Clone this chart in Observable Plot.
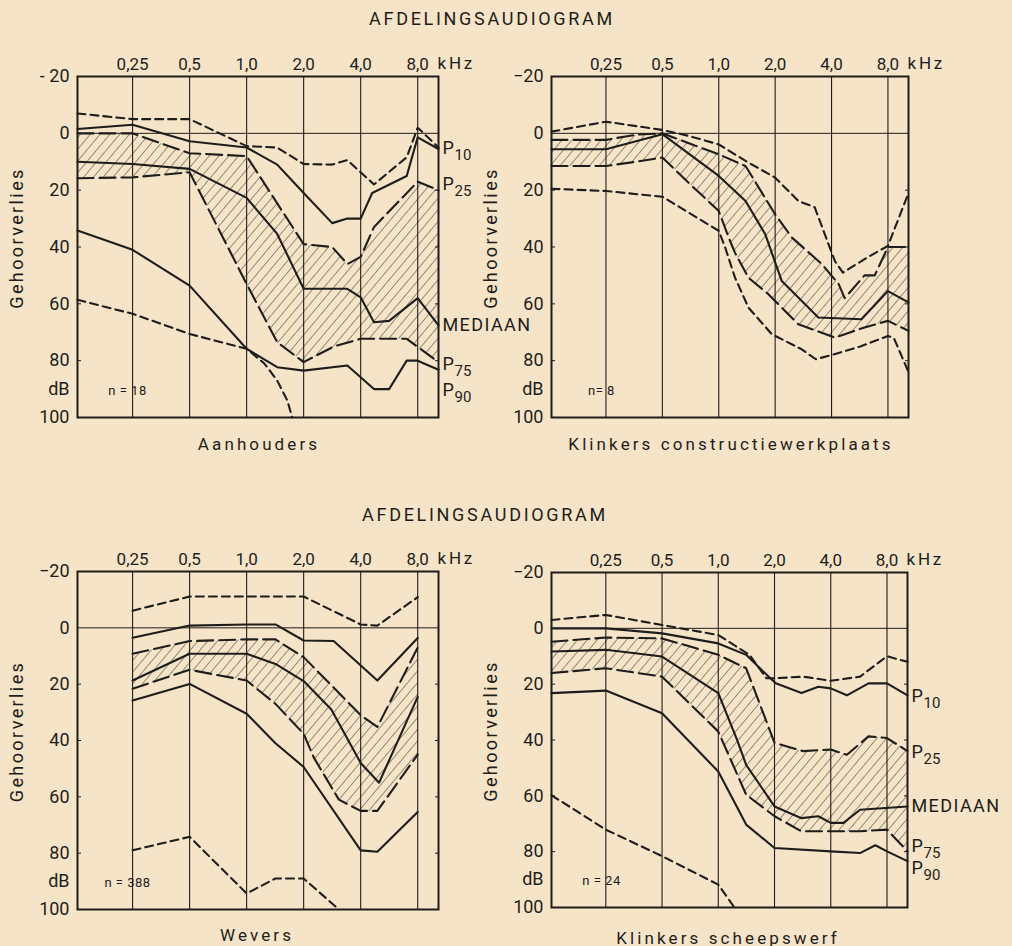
<!DOCTYPE html>
<html><head><meta charset="utf-8">
<script src="https://cdn.jsdelivr.net/npm/d3@7"></script>
<script src="https://cdn.jsdelivr.net/npm/@observablehq/plot@0.6"></script>
<style>
html,body{margin:0;padding:0;background:#f5e4c7;}
#page{position:relative;width:1012px;height:946px;overflow:hidden;background:#f5e4c7;font-family:Roboto,"DejaVu Sans",sans-serif;color:#1f1d1b;}
.title{position:absolute;font-size:18px;letter-spacing:2.7px;white-space:nowrap;line-height:18px;transform:translate(-50%,-50%);}
.caption{position:absolute;font-size:17px;letter-spacing:3.1px;white-space:nowrap;line-height:17px;transform:translate(-50%,-50%);}
.panel{position:absolute;}
.panel svg{overflow:visible;}
</style></head><body><div id="page"></div>
<script>
// ---------- shared axis data ----------
const freqTicks = [0.25, 0.5, 1, 2, 4, 8];
const freqLabels = ["0,25", "0,5", "1,0", "2,0", "4,0", "8,0"];
const dbTicks = [-20, 0, 20, 40, 60, 80, 90, 100];
const dbLabels = ["−20", "0", "20", "40", "60", "80", "dB", "100"];
const innerTicks = [20, 40, 60, 80];
const curveNames = ["P", "P", "MEDIAAN", "P", "P"];
const curveSubs = ["10", "25", "", "75", "90"];
const titleText = "AFDELINGSAUDIOGRAM";

// ---------- Aanhouders (n = 18) : [kHz, dB] ----------
const aanMax = [[0.128,-7],[0.25,-5],[0.5,-5],[1.0,4.5],[1.45,5],[2.0,10.8],[2.83,11],[3.4,9.4],[4.7,18],[7.0,8.4],[8.0,-2],[10.3,5]];
const aanP10 = [[0.128,-1.5],[0.25,-3],[0.5,2.8],[1.0,5],[1.45,11],[2.0,21],[2.83,31.6],[3.4,30],[4.0,30],[4.6,21],[7.0,15],[8.0,1.4],[10.3,5.5]];
const aanP25 = [[0.128,0],[0.25,0],[0.37,4],[0.5,7],[1.0,8],[2.0,39],[2.83,40],[3.4,46],[4.0,43.5],[4.7,33],[8.0,17],[10.3,20]];
const aanMed = [[0.128,10],[0.25,10.8],[0.5,12.5],[1.0,22.7],[1.45,35.4],[2.0,54.7],[3.4,54.7],[4.0,57.7],[4.7,66.5],[5.65,66],[8.0,58],[10.3,67.6]];
const aanP75 = [[0.128,15.8],[0.25,15.5],[0.5,13.7],[1.0,53],[1.45,73.5],[2.0,80.5],[2.89,75],[4.0,72.3],[7.0,72.3],[10.3,80.5]];
const aanP90 = [[0.128,34.2],[0.25,41],[0.5,53.6],[1.0,75.8],[1.45,82.3],[2.0,83.5],[3.4,81.7],[4.7,90],[5.65,90],[7.0,80],[8.0,80],[10.3,83.2]];
const aanMin = [[0.128,58.6],[0.25,63.5],[0.5,70.6],[1.0,75.8],[1.24,81],[1.45,87],[1.64,94],[1.74,100]];
const aanLabelDb = [5.3, 18, 67.6, 81.3, 90.5];

// ---------- Klinkers constructiewerkplaats (n = 8) ----------
const kcMax = [[0.128,-0.6],[0.25,-4.1],[0.5,-1.2],[0.69,0.9],[1.0,3.9],[1.39,9.7],[2.0,15.6],[2.66,23.8],[3.25,26],[4.17,45],[4.6,49],[6.2,43.7],[8.0,39.6],[10.3,21]];
const kcP25 = [[0.128,2.3],[0.25,2.3],[0.36,0.5],[0.5,0],[1.0,7.4],[1.39,11.5],[2.0,28.5],[2.46,36.7],[3.55,46],[4.36,53],[4.7,58],[6.0,50],[6.8,50],[8.0,40],[10.3,40]];
const kcMed = [[0.128,5.6],[0.25,5.6],[0.5,0.3],[1.0,15],[1.39,23.8],[1.77,35.5],[2.17,52],[3.4,64.8],[5.77,65.4],[8.0,55.5],[10.3,59.5]];
const kcP75 = [[0.128,11.5],[0.25,11.5],[0.36,10],[0.5,8.5],[0.69,17.4],[1.0,27.3],[1.13,36.7],[1.22,42],[1.44,50.8],[1.84,56.6],[2.66,67.2],[4.17,71.9],[6.0,68.3],[8.0,66],[10.3,69.5]];
const kcMin = [[0.128,19.5],[0.25,20.3],[0.5,22.3],[1.0,34.3],[1.08,40],[1.22,50.7],[1.44,61.3],[1.92,70.7],[2.77,76],[3.3,79.5],[4.0,78],[5.7,75],[8.0,71.3],[8.6,72],[10.3,84]];

// ---------- Wevers (n = 388) ----------
const wMax = [[0.25,-6.1],[0.5,-11.1],[2.0,-11.1],[4.0,-1.2],[4.9,-0.8],[8.0,-10.9]];
const wP10 = [[0.25,3.5],[0.5,-0.8],[1.0,-1.2],[1.42,-1.2],[2.0,4.5],[2.88,4.7],[4.9,18.7],[8.0,3.6]];
const wP25 = [[0.25,9.2],[0.5,4.7],[1.0,4.1],[1.42,4.1],[2.0,10.4],[4.0,31],[4.9,35.2],[8.0,7]];
const wMed = [[0.25,18.7],[0.5,9.2],[1.0,9.2],[1.42,12.8],[2.0,18.9],[2.8,29],[4.0,48],[5.0,55],[8.0,24.5]];
const wP75 = [[0.25,21.6],[0.5,14.9],[1.0,18.7],[1.42,27],[2.0,37.6],[2.26,46],[2.77,56],[3.07,61],[4.0,65],[4.9,65],[8.0,45]];
const wP90 = [[0.25,25.8],[0.5,19.9],[1.0,30.5],[1.42,41],[2.0,49.4],[4.0,79],[4.9,79.5],[8.0,65.4]];
const wMin = [[0.25,79],[0.5,74.2],[1.0,94.3],[1.42,89],[2.0,89],[3.07,100]];

// ---------- Klinkers scheepswerf (n = 24) ----------
const ksMax = [[0.128,-3],[0.25,-4.8],[0.5,-1.2],[1.0,2.4],[1.47,9.5],[1.81,17.9],[2.0,17.9],[2.85,17.3],[4.0,18.8],[5.74,17.3],[8.0,10],[10.3,12]];
const ksP10 = [[0.128,0],[0.25,0],[0.5,1.8],[1.0,5.4],[1.41,9.5],[1.74,15.5],[2.03,19.7],[2.79,23.2],[3.43,20.9],[4.0,21.5],[4.88,24],[6.37,19.7],[8.0,19.7],[10.3,24]];
const ksP25 = [[0.128,4.8],[0.25,3.3],[0.5,3.6],[1.0,9.5],[1.41,14.3],[2.0,41],[2.85,44],[4.0,43.4],[4.88,45.3],[6.37,38.7],[8.0,39.3],[10.3,44]];
const ksMed = [[0.128,8.3],[0.25,7.7],[0.5,10.1],[1.0,23.2],[1.25,39.3],[1.41,48.9],[2.0,63.8],[2.79,68],[3.43,67.3],[4.0,69.7],[4.68,69.7],[5.74,65],[10.3,63.8]];
const ksP75 = [[0.128,16],[0.25,14.3],[0.5,17.3],[1.0,37],[1.41,59.6],[2.0,67.3],[2.79,72.7],[4.0,72.7],[5.74,72.7],[8.0,72.1],[10.3,79.9]];
const ksP90 = [[0.128,23.2],[0.25,22.3],[0.5,30.4],[1.0,51.3],[1.41,70.3],[2.0,78.7],[4.0,79.9],[5.74,80.5],[6.93,77.7],[8.0,79.9],[10.3,83.4]];
const ksMin = [[0.128,59.8],[0.25,72.1],[0.5,81.6],[1.0,91.8],[1.22,100]];
const ksLabelDb = [24.3, 44.5, 63.6, 78, 86];

// ---------- layout (positions/styles only) ----------
const ink = "#1f1d1b";
const panels = [
  {id:"a", caption:"Aanhouders", n:"n = 18", left:0, top:30, mL:77, mR:68, mT:46, mB:13, capX:259, capY:444,
   max:aanMax, p10:aanP10, p25:aanP25, med:aanMed, p75:aanP75, p90:aanP90, min:aanMin, labels:aanLabelDb, minus:"- 20"},
  {id:"b", caption:"Klinkers constructiewerkplaats", n:"n= 8", left:506, top:30, mL:45, mR:104, mT:46, mB:13, capX:731, capY:444,
   max:kcMax, p10:null, p25:kcP25, med:kcMed, p75:kcP75, p90:null, min:kcMin, labels:null},
  {id:"c", caption:"Wevers", n:"n = 388", left:0, top:525, mL:77, mR:68, mT:46, mB:16, capX:257, capY:935,
   max:wMax, p10:wP10, p25:wP25, med:wMed, p75:wP75, p90:wP90, min:wMin, labels:null},
  {id:"d", caption:"Klinkers scheepswerf", n:"n = 24", left:506, top:525, mL:45, mR:105, mT:47, mB:18, capX:728, capY:938,
   max:ksMax, p10:ksP10, p25:ksP25, med:ksMed, p75:ksP75, p90:ksP90, min:ksMin, labels:ksLabelDb}
];

const page = document.getElementById("page");
[[492, 19], [485, 515]].forEach(([x, y]) => {
  const t = document.createElement("div");
  t.className = "title"; t.textContent = titleText;
  t.style.left = x + "px"; t.style.top = y + "px";
  page.appendChild(t);
});

const X = d => d[0], Y = d => d[1];
const solid = {stroke: ink, strokeWidth: 2.1, strokeLinejoin: "round"};
const extreme = {stroke: ink, strokeWidth: 2.1, strokeDasharray: "8,5"};
const quart = {stroke: ink, strokeWidth: 2.1, strokeDasharray: "16,6"};
const spacing = {"Gehoorverlies": "2.4px", "kHz": "2.8px", "MEDIAAN": "1.4px", "n = 18": "0.5px", "n= 8": "0.5px", "n = 388": "0.5px", "n = 24": "0.5px"};

panels.forEach(p => {
  const hatchId = "hatch-" + p.id;
  const band = p.p25.concat(p.p75.slice().reverse());
  const tickLabel = new Map(dbTicks.map((d, i) => [d, (d === -20 && p.minus) ? p.minus : dbLabels[i]]));
  const freqLabel = new Map(freqTicks.map((d, i) => [d, freqLabels[i]]));
  const marks = [
    Plot.ruleX(freqTicks, {stroke: ink, strokeWidth: 1.1}),
    Plot.ruleY([0], {stroke: ink, strokeWidth: 1}),
    Plot.line(band, {x: X, y: Y, fill: `url(#${hatchId})`, stroke: "none"}),
    Plot.line(p.max, {x: X, y: Y, ...extreme}),
    Plot.line(p.min, {x: X, y: Y, ...extreme}),
    Plot.line(p.p25, {x: X, y: Y, ...quart}),
    Plot.line(p.p75, {x: X, y: Y, ...quart}),
    Plot.line(p.med, {x: X, y: Y, ...solid}),
  ];
  if (p.p10) marks.push(Plot.line(p.p10, {x: X, y: Y, ...solid}));
  if (p.p90) marks.push(Plot.line(p.p90, {x: X, y: Y, ...solid}));
  marks.push(
    Plot.axisY(dbTicks, {anchor: "left", tickSize: 0, tickPadding: 8, tickFormat: d => tickLabel.get(d), label: null, fontSize: 18}),
    Plot.axisY(innerTicks, {anchor: "left", tickSize: -4, tickFormat: () => "", label: null}),
    Plot.axisY(innerTicks, {anchor: "right", tickSize: -4, tickFormat: () => "", label: null}),
    Plot.axisX(freqTicks, {anchor: "top", tickSize: 0, tickPadding: 7, tickFormat: d => freqLabel.get(d), label: null, fontSize: 17}),
    Plot.text(["kHz"], {text: d => d, frameAnchor: "top-right", dx: -1, dy: -13, lineAnchor: "middle", textAnchor: "start", fontSize: 17}),
    Plot.text(["Gehoorverlies"], {text: d => d, frameAnchor: "left", dx: -60, dy: -9, rotate: -90, textAnchor: "middle", lineAnchor: "middle", fontSize: 18}),
    Plot.text([p.n], {text: d => d, frameAnchor: "bottom-left", dx: 50, dy: -27, textAnchor: "middle", lineAnchor: "middle", fontSize: 13}),
    Plot.frame({stroke: ink, strokeWidth: 2})
  );
  if (p.labels) {
    marks.push(
      Plot.text(p.labels, {y: d => d, text: (d, i) => curveNames[i], frameAnchor: "right", dx: 4, textAnchor: "start", fontSize: 18}),
      Plot.text(p.labels, {y: d => d, text: (d, i) => curveSubs[i], frameAnchor: "right", dx: 16, dy: 7, textAnchor: "start", fontSize: 15})
    );
  }
  const svg = Plot.plot({
    width: 506, height: 400,
    marginLeft: p.mL, marginRight: p.mR, marginTop: p.mT, marginBottom: p.mB,
    x: {type: "log", base: 2, domain: [0.128, 10.3]},
    y: {domain: [-20, 100], reverse: true},
    style: {background: "transparent", overflow: "visible", fontFamily: "Roboto, 'DejaVu Sans', sans-serif", color: ink},
    marks
  });
  // text spacing (style only)
  d3.select(svg).selectAll("text").each(function () {
    const s = spacing[this.textContent];
    if (s) this.style.letterSpacing = s;
  });
  const pat = d3.select(svg).insert("defs", ":first-child")
    .append("pattern").attr("id", hatchId).attr("patternUnits", "userSpaceOnUse")
    .attr("width", 7.5).attr("height", 7.5).attr("patternTransform", "rotate(40)");
  pat.append("line").attr("x1", 0).attr("y1", -1).attr("x2", 0).attr("y2", 8.5)
    .attr("stroke", ink).attr("stroke-width", 0.9);
  const holder = document.createElement("div");
  holder.className = "panel";
  holder.style.left = p.left + "px"; holder.style.top = p.top + "px";
  holder.appendChild(svg);
  page.appendChild(holder);

  const cap = document.createElement("div");
  cap.className = "caption"; cap.textContent = p.caption;
  cap.style.left = p.capX + "px"; cap.style.top = p.capY + "px";
  page.appendChild(cap);
});
</script></body></html>
